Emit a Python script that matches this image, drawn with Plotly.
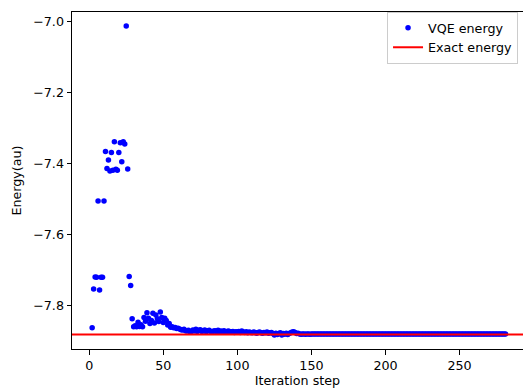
import plotly.graph_objects as go

# ---- data ----
first_step = 2
vqe_early = [
    -7.864, -7.754, -7.720, -7.721, -7.506, -7.757, -7.721, -7.721, -7.506,   # 2-10
    -7.366, -7.414, -7.390, -7.421, -7.369, -7.419, -7.338, -7.416, -7.419, -7.369,  # 11-20
    -7.341, -7.395, -7.338, -7.345, -7.011, -7.415, -7.719, -7.744,  # 21-28
]
vqe_mid = [
    -7.838, -7.861, -7.858, -7.861, -7.848, -7.860, -7.855, -7.861, -7.835, -7.845,  # 29-38
    -7.821, -7.837, -7.852, -7.843, -7.823, -7.850, -7.828, -7.838, -7.846, -7.819,  # 39-48
    -7.835, -7.849, -7.837, -7.843, -7.856, -7.852, -7.862, -7.861, -7.864, -7.863,  # 49-58
    -7.866, -7.865, -7.867, -7.869, -7.870, -7.868, -7.872, -7.873, -7.871, -7.875,  # 59-68
    -7.874, -7.870, -7.873, -7.868, -7.874, -7.871, -7.869, -7.874, -7.872, -7.870,  # 69-78
    -7.875, -7.872, -7.871, -7.874, -7.876, -7.873, -7.872, -7.875, -7.871, -7.874,  # 79-88
    -7.873, -7.875, -7.872, -7.876, -7.874, -7.873, -7.876, -7.875, -7.874, -7.877,  # 89-98
    -7.875, -7.876, -7.874, -7.877, -7.873, -7.876, -7.877, -7.875, -7.878, -7.876,  # 99-108
    -7.877, -7.878, -7.876, -7.877, -7.879, -7.877, -7.876, -7.878, -7.879, -7.877,  # 109-118
    -7.878, -7.876, -7.879, -7.878, -7.877, -7.880, -7.884, -7.879, -7.883, -7.880,  # 119-128
    -7.878, -7.884, -7.880, -7.882, -7.879, -7.883, -7.880, -7.878, -7.876, -7.875,  # 129-138
    -7.877, -7.880, -7.879, -7.881, -7.882, -7.881, -7.881, -7.882, -7.881, -7.881,  # 139-148
    -7.882,  # 149
]
vqe_tail = [
    -7.8811, -7.8810, -7.8812, -7.8811, -7.8810, -7.8811, -7.8812, -7.8810, -7.8811, -7.8811, -7.8810, -7.8812,
    -7.8811, -7.8810, -7.8811, -7.8811, -7.8812, -7.8810, -7.8811, -7.8810, -7.8811, -7.8812, -7.8811, -7.8810,
    -7.8811, -7.8811, -7.8810, -7.8812, -7.8811, -7.8810, -7.8811, -7.8811, -7.8812, -7.8810, -7.8811, -7.8811,
    -7.8810, -7.8811, -7.8812, -7.8811, -7.8810, -7.8811, -7.8811, -7.8810, -7.8812, -7.8811, -7.8810, -7.8811,
    -7.8811, -7.8812, -7.8810, -7.8811, -7.8811, -7.8810, -7.8811, -7.8812, -7.8811, -7.8810, -7.8811, -7.8811,
    -7.8810, -7.8812, -7.8811, -7.8810, -7.8811, -7.8811, -7.8812, -7.8810, -7.8811, -7.8811, -7.8810, -7.8811,
    -7.8812, -7.8811, -7.8810, -7.8811, -7.8811, -7.8810, -7.8812, -7.8811, -7.8810, -7.8811, -7.8811, -7.8812,
    -7.8810, -7.8811, -7.8811, -7.8810, -7.8811, -7.8812, -7.8811, -7.8810, -7.8811, -7.8811, -7.8810, -7.8812,
    -7.8811, -7.8810, -7.8811, -7.8811, -7.8812, -7.8810, -7.8811, -7.8811, -7.8810, -7.8811, -7.8812, -7.8811,
    -7.8810, -7.8811, -7.8811, -7.8810, -7.8812, -7.8811, -7.8810, -7.8811, -7.8811, -7.8812, -7.8810, -7.8811,
    -7.8811, -7.8810, -7.8811, -7.8812, -7.8811, -7.8810, -7.8811, -7.8811, -7.8810, -7.8812, -7.8811, -7.8810,
]
vqe_energy = vqe_early + vqe_mid + vqe_tail
steps = list(range(first_step, first_step + len(vqe_energy)))
exact_energy = -7.8825

x_tick_vals = [0, 50, 100, 150, 200, 250]
x_tick_text = ["0", "50", "100", "150", "200", "250"]
y_tick_vals = [-7.8, -7.6, -7.4, -7.2, -7.0]
y_tick_text = ["\u22127.8", "\u22127.6", "\u22127.4", "\u22127.2", "\u22127.0"]

FONT = "DejaVu Sans"
FS = 12.7

fig = go.Figure()
fig.add_trace(go.Scatter(
    x=steps, y=vqe_energy, mode="markers", name="VQE energy",
    marker=dict(color="#0000ff", size=5.5, line=dict(width=0)),
    legendrank=1,
))
fig.add_shape(
    type="line", xref="paper", x0=0, x1=1, yref="y", y0=exact_energy, y1=exact_energy,
    line=dict(color="#ff0000", width=2), layer="above",
    showlegend=True, name="Exact energy", legendrank=2,
)

fig.update_layout(
    width=523, height=390,
    margin=dict(l=72, r=0, t=12, b=41, autoexpand=False),
    paper_bgcolor="white", plot_bgcolor="white",
    font=dict(family=FONT, size=FS, color="black"),
    showlegend=True,
    legend=dict(
        x=0.989, y=1.0, xanchor="right", yanchor="top",
        bgcolor="white", bordercolor="#cccccc", borderwidth=1,
        font=dict(family=FONT, size=FS, color="black"),
    ),
    xaxis=dict(
        range=[-11.6, 292.8], showgrid=False, zeroline=False, automargin=False,
        showline=True, linecolor="black", linewidth=1, mirror=True,
        ticks="outside", ticklen=4.5, tickwidth=1, tickcolor="black",
        tickvals=x_tick_vals, ticktext=x_tick_text,
        title=dict(text="Iteration step", standoff=4, font=dict(family=FONT, size=FS)),
    ),
    yaxis=dict(
        range=[-7.9237, -6.9718], showgrid=False, zeroline=False, automargin=False,
        showline=True, linecolor="black", linewidth=1, mirror=False,
        ticks="outside", ticklen=4.5, tickwidth=1, tickcolor="black",
        tickvals=y_tick_vals, ticktext=y_tick_text,
        title=dict(text="Energy(au)", standoff=8, font=dict(family=FONT, size=FS)),
    ),
)

fig.write_html(
    "out.html",
    config={"displayModeBar": False},
    post_script="document.body.style.margin='0';document.body.style.overflow='hidden';",
)
